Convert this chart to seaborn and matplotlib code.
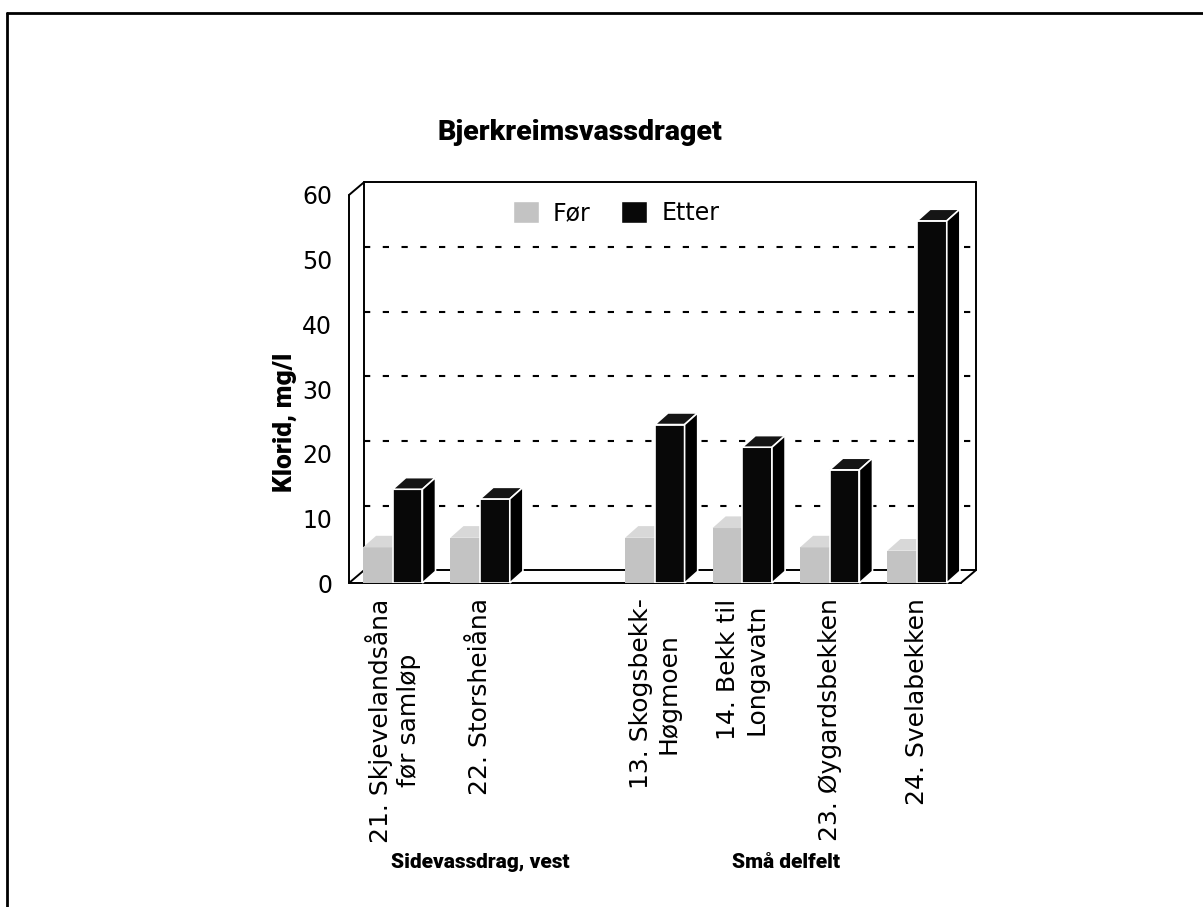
import numpy as np
import pandas as pd
import seaborn as sns
import matplotlib.pyplot as plt
from matplotlib.patches import Polygon, Patch
from matplotlib.lines import Line2D
from matplotlib.transforms import blended_transform_factory

# data (klorid, mg/l)
stations = ["21. Skjevelandsåna\nfør samløp", "22. Storsheiåna", "",
            "13. Skogsbekk-\nHøgmoen", "14. Bekk til\nLongavatn",
            "23. Øygardsbekken", "24. Svelabekken"]
for_vals = [5.5, 7.0, np.nan, 7.0, 8.5, 5.5, 5.0]
etter_vals = [14.5, 13.0, np.nan, 24.5, 21.0, 17.5, 56.0]
periods = ["Før", "Etter"]
groups = ["Sidevassdrag, vest", "Små delfelt"]
group_members = [[0, 1, 2], [3, 4, 5, 6]]
y_ticks = [0, 10, 20, 30, 40, 50, 60]

sns.set_style("white")
plt.rcParams["font.family"] = ["DejaVu Sans"]
for key in ["text.color", "axes.labelcolor", "xtick.color", "ytick.color"]:
    plt.rcParams[key] = "black"
bold_font = "Roboto"

df = pd.DataFrame({
    "stasjon": stations * 2,
    "periode": [periods[0]] * len(stations) + [periods[1]] * len(stations),
    "klorid": for_vals + etter_vals,
}).dropna()

fig = plt.figure(figsize=(12.03, 9.07), dpi=100)
ax = fig.add_axes([0.2901, 0.3572, 0.5267, 0.4492])

colors = {"Før": "#c3c3c3", "Etter": "#080808"}
sns.barplot(data=df, x="stasjon", y="klorid", hue="periode", order=stations,
            hue_order=periods, palette=colors, width=0.68, gap=0, saturation=1,
            linewidth=0, legend=False, ax=ax)

# fake 3d: top and side faces on each bar
bdx, bdy = 0.15, 1.8
faces = {"Før": ("#d8d8d8", "#a4a4a4", "none"),
         "Etter": ("#151515", "#000000", "white")}
for i, (period, cont) in enumerate(zip(periods, ax.containers)):
    top_c, side_c, edge_c = faces[period]
    for rect in cont:
        h = rect.get_height()
        if np.isnan(h) or h == 0:
            continue
        x0, w = rect.get_x(), rect.get_width()
        z = 3 + 2 * i
        rect.set_zorder(z)
        rect.set_edgecolor(edge_c)
        rect.set_linewidth(1.2)
        top = Polygon([(x0, h), (x0 + bdx, h + bdy), (x0 + w + bdx, h + bdy), (x0 + w, h)],
                      facecolor=top_c, edgecolor=edge_c, lw=1.2, zorder=z + 0.5, clip_on=False)
        side = Polygon([(x0 + w, 0), (x0 + w, h), (x0 + w + bdx, h + bdy), (x0 + w + bdx, bdy)],
                       facecolor=side_c, edgecolor=edge_c, lw=1.2, zorder=z + 0.5, clip_on=False)
        ax.add_patch(top)
        ax.add_patch(side)

# box: front axis, back wall, floor
L, R = -0.5, len(stations) - 0.5
wdx, wdy = 0.17, 1.95
ytop = y_ticks[-1]
box = dict(color="black", lw=1.4, clip_on=False, zorder=1)
ax.plot([L, L], [0, ytop], **box)
ax.plot([L, L + wdx], [ytop, ytop + wdy], **box)
ax.plot([L + wdx, L + wdx], [wdy, ytop + wdy], **box)
ax.plot([L + wdx, R + wdx], [ytop + wdy, ytop + wdy], **box)
ax.plot([R + wdx, R + wdx], [wdy, ytop + wdy], **box)
ax.plot([L, R], [0, 0], **box)
ax.plot([L + wdx, R + wdx], [wdy, wdy], **box)
ax.plot([L, L + wdx], [0, wdy], **box)
ax.plot([R, R + wdx], [0, wdy], **box)
for v in y_ticks[1:-1]:
    ax.plot([L + wdx, R + wdx], [v + wdy, v + wdy], color="black", lw=1.5,
            ls=(0, (3, 6)), zorder=1)

for s in ax.spines.values():
    s.set_visible(False)
ax.set_xlim(L, R + 0.25)
ax.set_ylim(0, 63)
ax.set_yticks(y_ticks)
ax.tick_params(axis="y", direction="out", length=8, width=1.4, pad=4, labelsize=17)
ax.set_xticks(range(len(stations)), stations)
ax.set_xticks(np.arange(L, R + 0.1), minor=True)
ax.tick_params(axis="x", which="major", length=0, pad=11, labelsize=18)
ax.tick_params(axis="x", which="minor", direction="out", length=10, width=1.4)
for lbl in ax.get_xticklabels():
    lbl.set_rotation(90)
    lbl.set_multialignment("center")
    lbl.set_verticalalignment("top")
ax.set_xlabel("")
ax.set_ylabel("")

fig.text(285 / 1203, 1 - 422 / 907, "Klorid, mg/l", rotation=90, ha="center", va="center",
         fontsize=19, fontweight="black", family=bold_font)
fig.text(580 / 1203, 1 - 133 / 907, "Bjerkreimsvassdraget", ha="center", va="center",
         fontsize=20.5, fontweight="black", family=bold_font)

trans = blended_transform_factory(ax.transData, fig.transFigure)
for name, members in zip(groups, group_members):
    ax.text(np.mean(members), 1 - 863 / 907, name, transform=trans, ha="center", va="center",
            fontsize=15, fontweight="black", family=bold_font)

handles = [Patch(facecolor=colors[p], label=p) for p in periods]
fig.legend(handles=handles, loc="center", bbox_to_anchor=(616 / 1203, 1 - 213 / 907), ncol=2,
           frameon=False, fontsize=17, handlelength=1.1, handleheight=1.1,
           handletextpad=0.6, columnspacing=1.3)

# page frame (top and left edge of the scan)
fig.add_artist(Line2D([7 / 1203, 7 / 1203], [0, 1 - 13 / 907], transform=fig.transFigure,
                      color="black", lw=2))
fig.add_artist(Line2D([7 / 1203, 1], [1 - 13 / 907, 1 - 13 / 907], transform=fig.transFigure,
                      color="black", lw=2))

fig.savefig("out.png", dpi=100)
